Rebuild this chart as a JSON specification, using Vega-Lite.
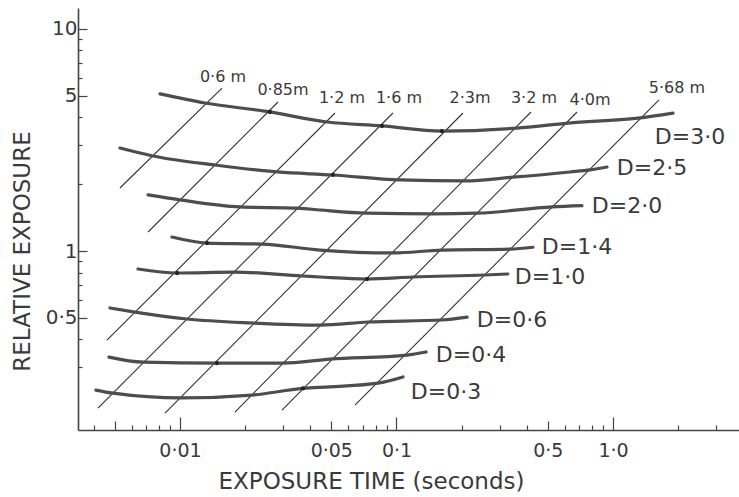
{
  "$schema": "https://vega.github.io/schema/vega-lite/v6.json",
  "autosize": "none",
  "width": 661,
  "height": 422,
  "padding": {"left": 78, "top": 8, "right": 0, "bottom": 67},
  "background": "white",
  "config": {
    "view": {"stroke": null},
    "font": "DejaVu Sans"
  },
  "datasets": {
    "curves": [
      {"D": "3·0", "t": 0.00809, "e": 5.10}, {"D": "3·0", "t": 0.01305, "e": 4.64}, {"D": "3·0", "t": 0.0260, "e": 4.23},
      {"D": "3·0", "t": 0.0478, "e": 3.81}, {"D": "3·0", "t": 0.0857, "e": 3.66}, {"D": "3·0", "t": 0.162, "e": 3.47},
      {"D": "3·0", "t": 0.360, "e": 3.58}, {"D": "3·0", "t": 0.620, "e": 3.77}, {"D": "3·0", "t": 1.305, "e": 3.97},
      {"D": "3·0", "t": 1.893, "e": 4.18},
      {"D": "2·5", "t": 0.00528, "e": 2.91}, {"D": "2·5", "t": 0.0075, "e": 2.68}, {"D": "2·5", "t": 0.01451, "e": 2.44},
      {"D": "2·5", "t": 0.0281, "e": 2.27}, {"D": "2·5", "t": 0.0509, "e": 2.20}, {"D": "2·5", "t": 0.1038, "e": 2.09},
      {"D": "2·5", "t": 0.2073, "e": 2.07}, {"D": "2·5", "t": 0.345, "e": 2.15}, {"D": "2·5", "t": 0.633, "e": 2.27},
      {"D": "2·5", "t": 0.783, "e": 2.32}, {"D": "2·5", "t": 0.938, "e": 2.39},
      {"D": "2·0", "t": 0.00712, "e": 1.79}, {"D": "2·0", "t": 0.0100, "e": 1.70}, {"D": "2·0", "t": 0.0189, "e": 1.58},
      {"D": "2·0", "t": 0.0351, "e": 1.56}, {"D": "2·0", "t": 0.0443, "e": 1.53}, {"D": "2·0", "t": 0.0731, "e": 1.48},
      {"D": "2·0", "t": 0.1475, "e": 1.47}, {"D": "2·0", "t": 0.2354, "e": 1.48}, {"D": "2·0", "t": 0.523, "e": 1.58},
      {"D": "2·0", "t": 0.719, "e": 1.60},
      {"D": "1·4", "t": 0.00918, "e": 1.156}, {"D": "1·4", "t": 0.01333, "e": 1.086}, {"D": "1·4", "t": 0.0239, "e": 1.075},
      {"D": "1·4", "t": 0.0443, "e": 1.01}, {"D": "1·4", "t": 0.0963, "e": 0.98}, {"D": "1·4", "t": 0.162, "e": 1.01},
      {"D": "1·4", "t": 0.334, "e": 1.02}, {"D": "1·4", "t": 0.427, "e": 1.04},
      {"D": "1·0", "t": 0.0064, "e": 0.830}, {"D": "1·0", "t": 0.0097, "e": 0.796}, {"D": "1·0", "t": 0.0178, "e": 0.804},
      {"D": "1·0", "t": 0.0366, "e": 0.772}, {"D": "1·0", "t": 0.0443, "e": 0.764}, {"D": "1·0", "t": 0.0731, "e": 0.748},
      {"D": "1·0", "t": 0.119, "e": 0.764}, {"D": "1·0", "t": 0.256, "e": 0.780}, {"D": "1·0", "t": 0.327, "e": 0.788},
      {"D": "0·6", "t": 0.00475, "e": 0.554}, {"D": "0·6", "t": 0.0062, "e": 0.531}, {"D": "0·6", "t": 0.01077, "e": 0.494},
      {"D": "0·6", "t": 0.0217, "e": 0.474}, {"D": "0·6", "t": 0.0443, "e": 0.464}, {"D": "0·6", "t": 0.0739, "e": 0.479},
      {"D": "0·6", "t": 0.162, "e": 0.489}, {"D": "0·6", "t": 0.212, "e": 0.504},
      {"D": "0·4", "t": 0.0047, "e": 0.333}, {"D": "0·4", "t": 0.00675, "e": 0.316}, {"D": "0·4", "t": 0.0148, "e": 0.313},
      {"D": "0·4", "t": 0.0296, "e": 0.313}, {"D": "0·4", "t": 0.0493, "e": 0.326}, {"D": "0·4", "t": 0.1118, "e": 0.340},
      {"D": "0·4", "t": 0.137, "e": 0.351},
      {"D": "0·3", "t": 0.00409, "e": 0.2365}, {"D": "0·3", "t": 0.0049, "e": 0.229}, {"D": "0·3", "t": 0.0102, "e": 0.218},
      {"D": "0·3", "t": 0.0215, "e": 0.2245}, {"D": "0·3", "t": 0.037, "e": 0.2405}, {"D": "0·3", "t": 0.0493, "e": 0.2445},
      {"D": "0·3", "t": 0.0821, "e": 0.254}, {"D": "0·3", "t": 0.1072, "e": 0.271}
    ],
    "distances": [
      {"d": "0·6m", "t": 0.00528, "e": 1.922}, {"d": "0·6m", "t": 0.01563, "e": 5.42},
      {"d": "0·85m", "t": 0.00712, "e": 1.218}, {"d": "0·85m", "t": 0.02836, "e": 4.69},
      {"d": "1·2m", "t": 0.0046, "e": 0.397}, {"d": "1·2m", "t": 0.052, "e": 4.184},
      {"d": "1·6m", "t": 0.00418, "e": 0.196}, {"d": "1·6m", "t": 0.0963, "e": 4.184},
      {"d": "2·3m", "t": 0.00853, "e": 0.1863}, {"d": "2·3m", "t": 0.2029, "e": 4.184},
      {"d": "3·2m", "t": 0.01795, "e": 0.1883}, {"d": "3·2m", "t": 0.418, "e": 4.228},
      {"d": "4·0m", "t": 0.0296, "e": 0.1922}, {"d": "4·0m", "t": 0.682, "e": 4.228},
      {"d": "5·68m", "t": 0.0643, "e": 0.2024}, {"d": "5·68m", "t": 1.632, "e": 4.789}
    ],
    "crossings": [
      {"t": 0.0260, "e": 4.23}, {"t": 0.0857, "e": 3.66}, {"t": 0.162, "e": 3.47},
      {"t": 0.0509, "e": 2.20}, {"t": 0.01333, "e": 1.086}, {"t": 0.0097, "e": 0.796},
      {"t": 0.0148, "e": 0.313}, {"t": 0.037, "e": 0.2405}, {"t": 0.0731, "e": 0.748}
    ],
    "curveLabels": [
      {"label": "D=3·0", "t": 2.269, "e": 3.263},
      {"label": "D=2·5", "t": 1.514, "e": 2.365},
      {"label": "D=2·0", "t": 1.161, "e": 1.595},
      {"label": "D=1·4", "t": 0.682, "e": 1.042},
      {"label": "D=1·0", "t": 0.5117, "e": 0.764},
      {"label": "D=0·6", "t": 0.3417, "e": 0.489},
      {"label": "D=0·4", "t": 0.2208, "e": 0.340},
      {"label": "D=0·3", "t": 0.1693, "e": 0.2316}
    ],
    "distanceLabels": [
      {"label": "0·6 m", "t": 0.0158, "e": 6.08},
      {"label": "0·85m", "t": 0.02991, "e": 5.31},
      {"label": "1·2 m", "t": 0.0560, "e": 4.89},
      {"label": "1·6 m", "t": 0.1027, "e": 4.89},
      {"label": "2·3m", "t": 0.2186, "e": 4.89},
      {"label": "3·2 m", "t": 0.4316, "e": 4.89},
      {"label": "4·0m", "t": 0.7833, "e": 4.789},
      {"label": "5·68 m", "t": 1.975, "e": 5.42}
    ]
  },
  "encoding": {
    "x": {
      "field": "t",
      "type": "quantitative",
      "scale": {"type": "log", "domain": [0.00338, 3.82], "nice": false, "zero": false},
      "axis": {
        "title": "EXPOSURE TIME (seconds)",
        "values": [0.004, 0.005, 0.006, 0.007, 0.008, 0.009, 0.01, 0.02, 0.03, 0.04, 0.05, 0.06, 0.07, 0.08, 0.09, 0.1, 0.2, 0.3, 0.4, 0.5, 0.6, 0.7, 0.8, 0.9, 1, 2, 3],
        "labelExpr": "datum.value === 0.01 ? '0·01' : datum.value === 0.05 ? '0·05' : datum.value === 0.1 ? '0·1' : datum.value === 0.5 ? '0·5' : datum.value === 1 ? '1·0' : ''",
        "tickSize": {"condition": [
          {"test": "indexof([0.01, 0.1, 1], datum.value) >= 0", "value": -13},
          {"test": "indexof([0.005, 0.05, 0.5], datum.value) >= 0", "value": -9}
        ], "value": -5},
        "labelPadding": {"condition": [
          {"test": "indexof([0.01, 0.1, 1], datum.value) >= 0", "value": 24},
          {"test": "indexof([0.005, 0.05, 0.5], datum.value) >= 0", "value": 20}
        ], "value": 16},
        "tickColor": "#444444",
        "tickWidth": 1.2,
        "domainColor": "#444444",
        "domainWidth": 1.6,
        "grid": false,
        "labelFlush": false,
        "labelOverlap": false,
        "labelFont": "DejaVu Sans",
        "labelFontSize": 19,
        "labelColor": "#3a3a3a",
        "titleFont": "DejaVu Sans",
        "titleFontSize": 23,
        "titleFontWeight": "normal",
        "titleColor": "#3a3a3a",
        "titleX": 293,
        "titleY": 58,
        "titleBaseline": "alphabetic"
      }
    },
    "y": {
      "field": "e",
      "type": "quantitative",
      "scale": {"type": "log", "domain": [0.1563, 12.43], "nice": false, "zero": false},
      "axis": {
        "title": "RELATIVE EXPOSURE",
        "values": [0.3, 0.4, 0.5, 0.6, 0.7, 0.8, 0.9, 1, 2, 3, 4, 5, 6, 7, 8, 9, 10],
        "labelExpr": "datum.value === 0.5 ? '0·5' : datum.value === 1 ? '1' : datum.value === 5 ? '5' : datum.value === 10 ? '10' : ''",
        "tickSize": {"condition": {"test": "indexof([0.5, 1, 5, 10], datum.value) >= 0", "value": -9}, "value": -4},
        "tickColor": "#444444",
        "tickWidth": 1.2,
        "domainColor": "#444444",
        "domainWidth": 1.6,
        "grid": false,
        "labelFlush": false,
        "labelOverlap": false,
        "labelFont": "DejaVu Sans",
        "labelFontSize": 20,
        "labelColor": "#3a3a3a",
        "labelPadding": 10,
        "titleFont": "DejaVu Sans",
        "titleFontSize": 23,
        "titleFontWeight": "normal",
        "titleColor": "#3a3a3a",
        "titleAngle": 270,
        "titleX": -56,
        "titleY": 243,
        "titleAlign": "center",
        "titleBaseline": "middle"
      }
    }
  },
  "layer": [
    {
      "data": {"name": "distances"},
      "mark": {"type": "line", "stroke": "#333333", "strokeWidth": 1.1},
      "encoding": {"detail": {"field": "d"}}
    },
    {
      "data": {"name": "curves"},
      "mark": {"type": "line", "stroke": "#4d4d4d", "strokeWidth": 3.2, "interpolate": "monotone", "strokeCap": "round"},
      "encoding": {"detail": {"field": "D"}}
    },
    {
      "data": {"name": "crossings"},
      "mark": {"type": "point", "filled": true, "fill": "#222222", "size": 18, "opacity": 1},
      "encoding": {}
    },
    {
      "data": {"name": "curveLabels"},
      "mark": {"type": "text", "font": "DejaVu Sans", "fontSize": 22, "fill": "#3a3a3a", "align": "center", "baseline": "middle"},
      "encoding": {"text": {"field": "label"}}
    },
    {
      "data": {"name": "distanceLabels"},
      "mark": {"type": "text", "font": "DejaVu Sans", "fontSize": 16, "fill": "#3a3a3a", "align": "center", "baseline": "middle"},
      "encoding": {"text": {"field": "label"}}
    }
  ]
}
